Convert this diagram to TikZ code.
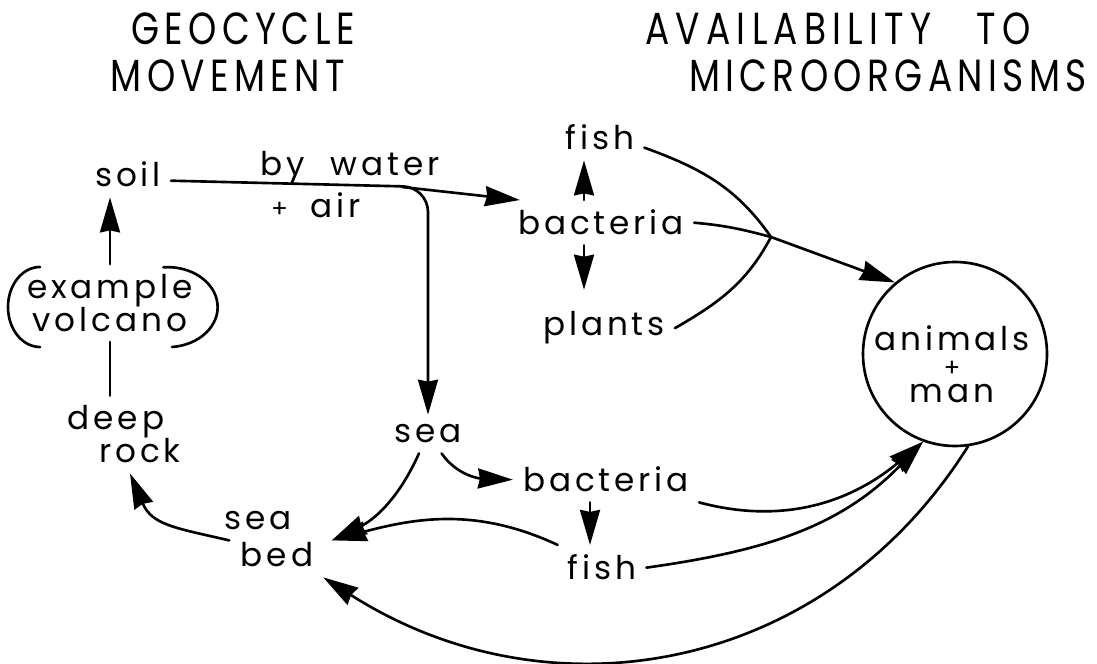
\documentclass[tikz,border=0pt]{standalone}
\usepackage{fontspec}
\setmainfont{Poppins}[LetterSpace=12]
\newfontfamily\headfont{Poppins}[FakeStretch=0.8,LetterSpace=12]
\usetikzlibrary{arrows.meta,calc}

\begin{document}
\begin{tikzpicture}[x=1cm,y=1cm,line cap=round,line join=round,line width=.75pt,
    lbl/.style={inner sep=2.5pt,font=\fontsize{9.3}{9.4}\selectfont},
    head/.style={inner sep=0pt,anchor=base,font=\headfont\fontsize{12.8}{13}\selectfont},
    arr/.style={-{Stealth[length=3.5mm,width=2mm,inset=.2mm]}}]
  \path[use as bounding box] (0,0) rectangle (10.97,6.64);
  \fill[white] (0,0) rectangle (10.97,6.64);

  % Headings of the two columns.
  \node[head] (geoA) at (2.43,6.19) {GEOCYCLE};
  \node[head] (geoB) at (2.28,5.72) {MOVEMENT};
  \node[head] (avA) at (8.38,6.19) {\addfontfeatures{LetterSpace=14}AVAILABILITY\hspace{1em}TO};
  \node[head] (avB) at (8.88,5.72) {MICROORGANISMS};

  % Geocycle: soil, volcano, deep rock and the sea.
  \node[lbl,anchor=base] (soil) at (1.28,4.77) {soil};
  \node[lbl,anchor=base] (water) at (3.50,4.88) {by\hspace{.8em}water};
  \node[lbl,anchor=base] (air) at (3.16,4.46) {{\fontsize{7}{7}\selectfont+}\hspace{.7em}air};
  \node[lbl,align=center] (volc) at (1.10,3.61) {example\\volcano};
  \node[lbl,anchor=base] (deep) at (1.16,2.34) {deep};
  \node[lbl,anchor=base] (rock) at (1.40,2.01) {rock};
  \node[lbl,anchor=base] (sea) at (4.28,2.21) {sea};
  \node[lbl,anchor=base] (bedsea) at (2.58,1.34) {sea};
  \node[lbl,anchor=base] (bed) at (2.77,0.97) {bed};

  % Availability: the two food chains and the consumers.
  \node[lbl,anchor=base] (fishA) at (6.00,5.14) {fish};
  \node[lbl,anchor=base] (bactA) at (6.01,4.29) {bacteria};
  \node[lbl,anchor=base] (plants) at (6.04,3.28) {plants};
  \node[lbl,anchor=base] (bactB) at (6.06,1.72) {bacteria};
  \node[lbl,anchor=base] (fishB) at (6.02,0.84) {fish};
  \node[draw,circle,minimum size=1.84cm,inner sep=0pt] (man) at (9.55,3.10) {};
  \node[lbl,align=center] (mantxt) at (9.52,3.00)
    {animals\\[-2pt]{\fontsize{7}{7}\selectfont+}\\[-2pt]man};

  % Brackets round the volcano.
  \draw ($(volc.center)+(-.70,.36)$) arc[start angle=90,end angle=270,x radius=.32,y radius=.40];
  \draw ($(volc.center)+(.62,-.44)$) arc[start angle=-85,end angle=95,x radius=.50,y radius=.40];

  % Geocycle movement.
  \coordinate (split) at (4.02,4.77);
  \coordinate (bend) at (4.28,4.77);
  \draw[arr] (volc.north) -- (volc.north |- soil.south);
  \draw (volc.south) -- (volc.south |- deep.north);
  \draw[arr,rounded corners=.25cm] ([yshift=-.6mm]soil.east) -- (bend) -- (sea.north);
  \draw[arr] (split) -- ([xshift=1.2mm]bactA.north west);
  \draw[arr] ([xshift=1.5mm]bedsea.south west) to[out=167,in=-67,looseness=1.2] ([xshift=-1mm]rock.south);
  \draw[arr] (sea.-115) to[out=-114,in=26] ([xshift=3mm]bedsea.south east);
  \draw[arr] (sea.-55) to[out=-55,in=178] (bactB.west);

  % Availability to microorganisms.
  \coordinate (jn) at (7.71,4.27);
  \draw[arr] ($(bactA.north)+(-.17,0)$) -- ($(bactA.north |- fishA.south)+(-.17,0)$);
  \draw[arr] ($(bactA.south)+(-.17,0)$) -- ($(bactA.south |- plants.north)+(-.17,.12)$);
  \draw[arr] ([yshift=-1mm]fishA.east) to[out=-20,in=125] (jn) -- (man.130);
  \draw (bactA.east) to[out=-5,in=165] (jn);
  \draw (plants.east) to[out=30,in=-118] (jn);
  \draw[arr] ($(bactB.south)+(-.16,0)$) -- ($(bactB.south |- fishB.north)+(-.16,0)$);
  \draw[arr] (fishB.east) to[out=8,in=226] (man.250);
  \draw[arr] (bactB.south east) to[out=-15,in=220] (man.250);
  \draw[arr] (fishB.north west) to[out=155,in=15] ([xshift=3mm]bedsea.south east);
  \draw[arr] (man.278) .. controls (8.25,-.1) and (5.5,-.58) .. (bed.south east);
\end{tikzpicture}
\end{document}
